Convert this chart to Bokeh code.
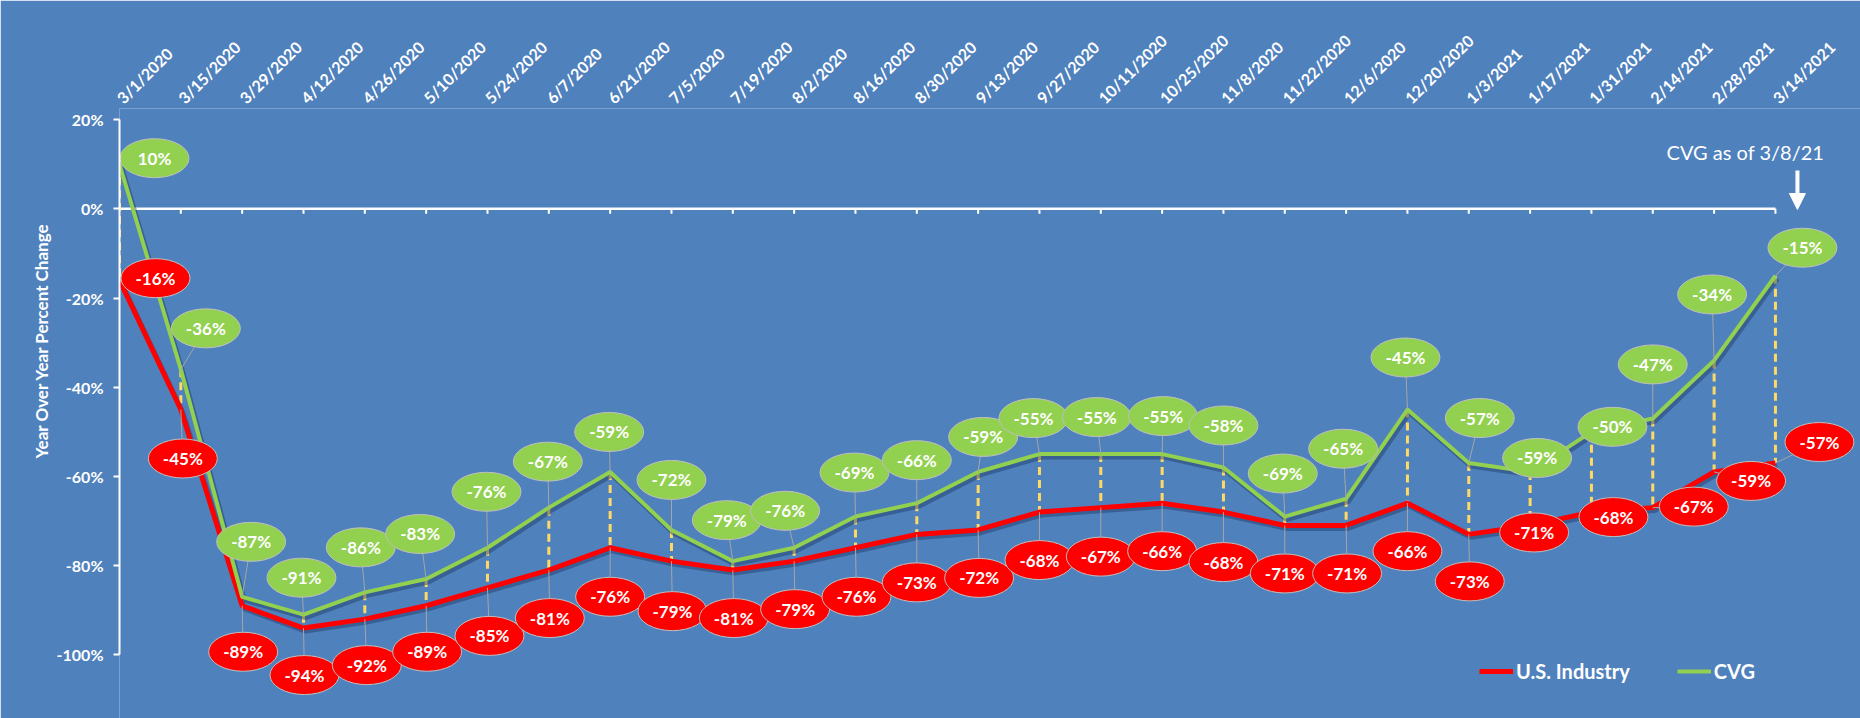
import math
from bokeh.plotting import figure
from bokeh.models import (Range1d, FixedTicker, PrintfTickFormatter, Label, Arrow,
                          NormalHead, Legend, LegendItem, Title)
from bokeh.core.properties import value
from bokeh.embed import file_html
from bokeh.resources import INLINE

# ---------------- data ----------------
dates = ["3/1/2020", "3/15/2020", "3/29/2020", "4/12/2020", "4/26/2020", "5/10/2020",
         "5/24/2020", "6/7/2020", "6/21/2020", "7/5/2020", "7/19/2020", "8/2/2020",
         "8/16/2020", "8/30/2020", "9/13/2020", "9/27/2020", "10/11/2020", "10/25/2020",
         "11/8/2020", "11/22/2020", "12/6/2020", "12/20/2020", "1/3/2021", "1/17/2021",
         "1/31/2021", "2/14/2021", "2/28/2021", "3/14/2021"]
cvg = [10, -36, -87, -91, -86, -83, -76, -67, -59, -72, -79, -76, -69, -66,
       -59, -55, -55, -55, -58, -69, -65, -45, -57, -59, -50, -47, -34, -15]
us_industry = [-16, -45, -89, -94, -92, -89, -85, -81, -76, -79, -81, -79, -76, -73,
               -72, -68, -67, -66, -68, -71, -71, -66, -73, -71, -68, -67, -59, -57]
y_ticks = [-100, -80, -60, -40, -20, 0, 20]

# ---------------- layout (screen px offsets of the callout labels) ----------------
off_cvg = [(35, -6), (25, -41), (9, -55), (-2, -37), (-4, -45), (-6, -45), (-1, -56),
           (-1, -46), (-1, -40), (0, -50), (-6, -41), (-9, -37), (-1, -44), (0, -43),
           (5, -35), (-6, -36), (-4, -37), (1, -38), (0, -42), (-2, -43), (-3, -50),
           (-2, -52), (11, -45), (7, -14), (21, -5), (0, -54), (-2, -66), (27, -28)]
off_us = [(36, -2), (2, 49), (1, 46), (1, 47), (2, 46), (1, 46), (2, 48), (1, 48),
          (0, 49), (1, 50), (1, 48), (1, 48), (1, 49), (0, 48), (1, 48), (0, 48),
          (0, 49), (0, 48), (0, 50), (0, 48), (1, 48), (0, 48), (1, 47), (4, 7),
          (22, 5), (41, -1), (37, 9), (44, -21)]

BLUE = "#4F81BD"
RED = "#FF0000"
GREEN = "#92D050"
YELLOW = "#FFD966"
FONT = "Lato"

W, H = 1860, 718
FRAME_L, FRAME_T = 119, 108
X_START, X_END = 0.0, 28.387
Y_BOTTOM, Y_TOP = -114.28, 22.49
PX_X = (W - FRAME_L) / (X_END - X_START)
PX_Y = (H - FRAME_T) / (Y_TOP - Y_BOTTOM)

n = len(dates)
idx = list(range(n))

p = figure(width=W, height=H, x_range=Range1d(X_START, X_END),
           y_range=Range1d(Y_BOTTOM, Y_TOP), output_backend="svg",
           toolbar_location=None, x_axis_location="above",
           min_border_left=FRAME_L, min_border_top=FRAME_T,
           min_border_right=0, min_border_bottom=0)
p.background_fill_color = BLUE
p.border_fill_color = BLUE
p.outline_line_color = None
p.grid.visible = False

# top category axis (labels only)
xa = p.xaxis[0]
xa.ticker = FixedTicker(ticks=idx)
xa.major_label_overrides = {i: d for i, d in enumerate(dates)}
xa.major_label_orientation = math.pi / 4
xa.axis_line_color = None
xa.major_tick_line_color = None
xa.major_tick_out = 0
xa.major_tick_in = 0
xa.minor_tick_line_color = None
xa.major_label_standoff = 8
xa.major_label_text_color = "white"
xa.major_label_text_font = FONT
xa.major_label_text_font_style = "bold"
xa.major_label_text_font_size = "16px"

# left value axis
ya = p.yaxis[0]
ya.ticker = FixedTicker(ticks=y_ticks)
ya.formatter = PrintfTickFormatter(format="%d%%")
ya.bounds = (float(y_ticks[0]), float(y_ticks[-1]))
ya.axis_line_color = "white"
ya.axis_line_width = 2
ya.major_tick_line_color = "white"
ya.major_tick_line_width = 2
ya.major_tick_out = 6
ya.major_tick_in = 0
ya.minor_tick_line_color = None
ya.major_label_standoff = 10
ya.major_label_text_color = "white"
ya.major_label_text_font = FONT
ya.major_label_text_font_style = "bold"
ya.major_label_text_font_size = "16px"

# axis title on the left side
p.add_layout(Title(text="Year Over Year Percent Change", align="left", offset=260,
                   text_color="white", text_font=FONT, text_font_style="bold",
                   text_font_size="17px", standoff=4), "left")

# zero line with category tick marks
p.segment(x0=[idx[0]], y0=[0], x1=[idx[-1]], y1=[0], line_color="white", line_width=2.5)
p.segment(x0=idx[1:], y0=[0] * (n - 1), x1=idx[1:], y1=[-5 / PX_Y] * (n - 1),
          line_color="white", line_width=2)

# yellow dashed drop lines between the series
p.segment(x0=idx, y0=cvg, x1=idx, y1=us_industry, line_color=YELLOW,
          line_width=3, line_dash="8 5")

# shadows
sx = [i + 2 / PX_X for i in idx]
p.line(sx, [v - 3 / PX_Y for v in us_industry], line_color="#1F3864", line_alpha=0.45, line_width=5)
p.line(sx, [v - 3 / PX_Y for v in cvg], line_color="#1F3864", line_alpha=0.45, line_width=5)

# series lines
r_us = p.line(idx, us_industry, line_color=RED, line_width=5, line_join="round")
r_cvg = p.line(idx, cvg, line_color=GREEN, line_width=4, line_join="round")


def callouts(vals, offs, fill):
    lx = [i + dx / PX_X for i, (dx, dy) in zip(idx, offs)]
    ly = [v - dy / PX_Y for v, (dx, dy) in zip(vals, offs)]
    p.segment(x0=idx, y0=vals, x1=lx, y1=ly, line_color="#A6A6A6", line_width=1)
    p.ellipse(x=lx, y=ly, width=69, height=39, width_units="screen",
              height_units="screen", fill_color=fill, line_color="#BFBFBF", line_width=1)
    p.text(x=lx, y=ly, text=[f"{v}%" for v in vals], text_color="white",
           text_font=value(FONT), text_font_style="bold", text_font_size="17px",
           text_align="center", text_baseline="middle")


callouts(us_industry, off_us, RED)
callouts(cvg, off_cvg, GREEN)

# annotation
last = idx[-1]
p.add_layout(Label(x=last - 30 / PX_X, y=(208.3 - 151) / PX_Y, text="CVG as of 3/8/21",
                   text_align="center", text_baseline="middle", text_color="white",
                   text_font=FONT, text_font_size="20px"))
p.add_layout(Arrow(end=NormalHead(size=16, fill_color="white", line_color="white"),
                   x_start=last + 22 / PX_X, y_start=(208.3 - 170) / PX_Y,
                   x_end=last + 22 / PX_X, y_end=(208.3 - 209) / PX_Y,
                   line_color="white", line_width=4))

legend = Legend(items=[LegendItem(label="U.S. Industry", renderers=[r_us]),
                       LegendItem(label="CVG", renderers=[r_cvg])],
                location=(1360, 35), orientation="horizontal",
                background_fill_alpha=0, border_line_color=None,
                label_text_color="white", label_text_font=FONT,
                label_text_font_style="bold", label_text_font_size="20px",
                glyph_width=34, glyph_height=20, label_height=20, label_standoff=3,
                spacing=47, padding=0, margin=0)
p.add_layout(legend)

open("out.html", "w").write(file_html(p, INLINE))
